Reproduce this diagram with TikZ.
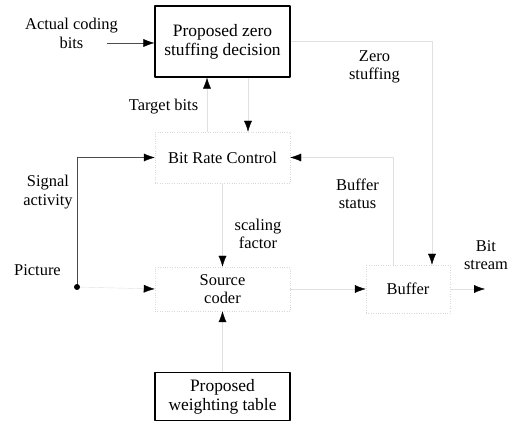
\documentclass[tikz,border=0pt]{standalone}
\usepackage{fontspec}
\setmainfont{Liberation Serif}
\usetikzlibrary{arrows.meta}

\begin{document}
\begin{tikzpicture}[>={Latex[length=11bp,width=8bp,color=black]},line join=bevel,
  box/.style={draw,line width=1.2bp,minimum width=135bp,align=center,font=\fontsize{17.5}{19}\selectfont},
  blk/.style={draw=black!15,dotted,minimum width=135bp,align=center,font=\fontsize{16.5}{18.5}\selectfont},
  lbl/.style={draw=none,align=center,font=\fontsize{16.5}{18.5}\selectfont},
  faint/.style={draw=black!12,->},
  sig/.style={draw=black!70,thin,->}]
\useasboundingbox (0bp,0bp) rectangle (513bp,423bp);
%%
\node (node_zsd) at (222.5bp,381.5bp) [box,minimum height=71bp] {Proposed zero\\stuffing decision};
  \node (node_wt) at (222.5bp,26.5bp) [box,minimum height=48bp] {Proposed\\weighting table};
  \node (node_brc) at (222.5bp,265.5bp) [blk,minimum height=51bp] {Bit Rate Control};
  \node (node_sc) at (222.5bp,134bp) [blk,minimum height=44bp] {Source\\coder};
  \node (node_buf) at (408bp,134bp) [blk,minimum width=84bp,minimum height=48bp] {Buffer};
%
\node (node_acb) at (71.5bp,389.5bp) [lbl] {Actual coding\\bits};
  \node (node_tb) at (163.5bp,316bp) [lbl] {Target bits};
  \node (node_zs) at (374.5bp,356bp) [lbl] {Zero\\stuffing};
  \node (node_sa) at (48bp,231bp) [lbl] {Signal\\activity};
  \node (node_pic) at (37.5bp,153bp) [lbl] {Picture};
  \node (node_sf) at (258bp,189bp) [lbl] {scaling\\factor};
  \node (node_bs) at (357.5bp,229bp) [lbl] {Buffer\\status};
  \node (node_bits) at (486bp,168bp) [lbl] {Bit\\stream};
%
\coordinate (c_acb) at (107bp,380bp);
  \coordinate (c_dot) at (77bp,136bp);
  \coordinate (c_out) at (485bp,134bp);
%
\draw [sig] (c_acb) -- (c_acb -| node_zsd.west);
  \draw [faint] ([xshift=-15.5bp]node_brc.north) -- ([xshift=-15.5bp]node_zsd.south);
  \draw [faint] ([xshift=25.5bp]node_zsd.south) -- ([xshift=25.5bp]node_brc.north);
  \draw [faint] (node_zsd.east) -| ([xshift=24bp]node_buf.north);
  \draw [faint] ([xshift=-15bp]node_buf.north) |- (node_brc.east);
  \draw [sig] (c_dot) |- (node_brc.west);
  \draw [faint] (c_dot) -- (node_sc.west);
  \draw [faint] (node_brc) -- (node_sc);
  \draw [faint] (node_wt) -- (node_sc);
  \draw [faint] (node_sc) -- (node_buf);
  \draw [faint] (node_buf) -- (c_out);
  \fill (c_dot) circle (3bp);
%
\end{tikzpicture}
\end{document}
